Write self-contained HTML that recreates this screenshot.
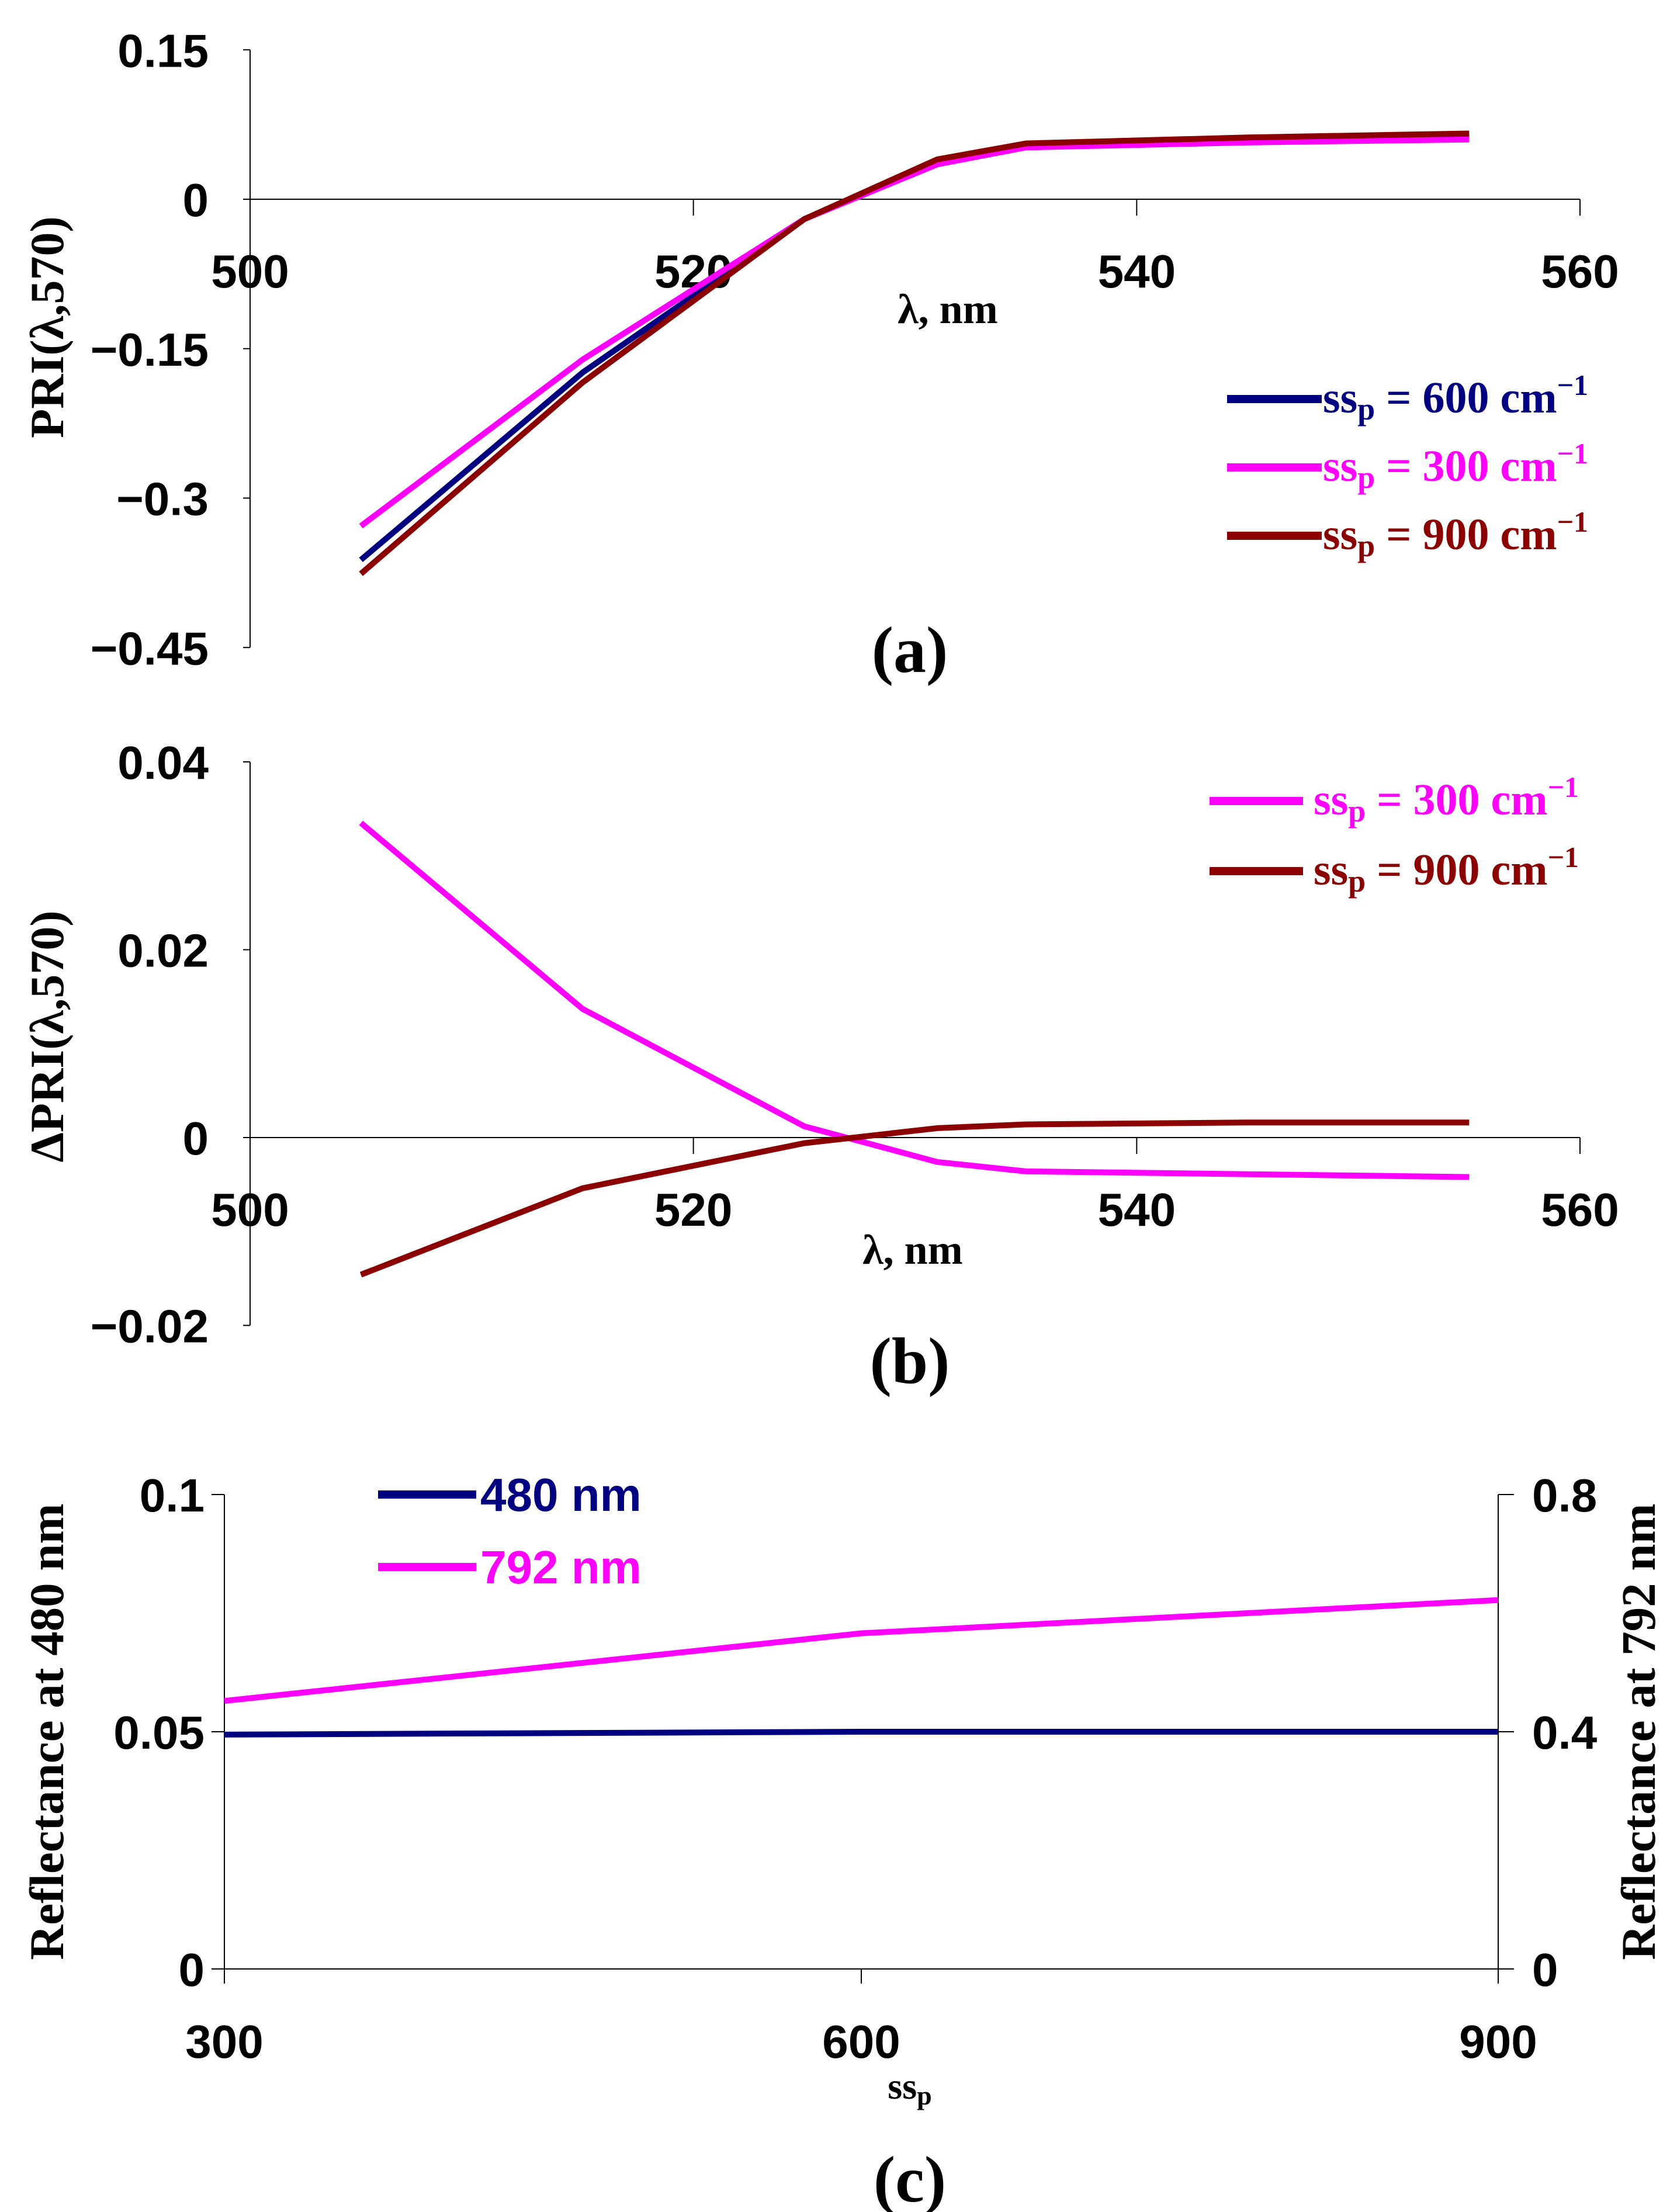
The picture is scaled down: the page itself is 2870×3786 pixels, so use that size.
<!DOCTYPE html>
<html><head><meta charset="utf-8"><style>
html,body{margin:0;padding:0;background:#fff;}
svg{display:block;}
.tk{font-family:"Liberation Sans",sans-serif;font-weight:bold;font-size:80px;fill:#000;}
.sr{font-family:"Liberation Serif",serif;font-weight:bold;}
</style></head><body>
<svg id="fig" width="2870" height="3786" viewBox="0 0 2870 3786" xmlns="http://www.w3.org/2000/svg">
<g id="pa"></g>
<g id="pb"></g>
<g id="pc"></g>
</svg>
<script>
// Panel (a) data
const lamA = [505, 515, 525, 531, 535, 545, 555];
const pri600 = [-0.362, -0.174, -0.020, 0.038, 0.054, 0.060, 0.063];
const pri300 = [-0.328, -0.161, -0.020, 0.035, 0.052, 0.057, 0.060];
const pri900 = [-0.376, -0.184, -0.020, 0.040, 0.056, 0.062, 0.066];
const yTicksA = [0.15, 0, -0.15, -0.3, -0.45];
const yTickLabelsA = ["0.15", "0", "\u22120.15", "\u22120.3", "\u22120.45"];
const xTicks = [500, 520, 540, 560];
// Panel (b) data
const lamB = [505, 515, 525, 531, 535, 545, 555];
const dpri300 = [0.0335, 0.0137, 0.0012, -0.0026, -0.0036, -0.0039, -0.0042];
const dpri900 = [-0.0146, -0.0054, -0.0006, 0.0010, 0.0014, 0.0016, 0.0016];
const yTicksB = [0.04, 0.02, 0, -0.02];
const yTickLabelsB = ["0.04", "0.02", "0", "\u22120.02"];
// Panel (c) data
const ssp = [300, 600, 900];
const r480 = [0.0494, 0.0500, 0.0500];
const r792 = [0.452, 0.566, 0.622];
const yTicksCL = [0.1, 0.05, 0];
const yTickLabelsCL = ["0.1", "0.05", "0"];
const yTicksCR = [0.8, 0.4, 0];
const yTickLabelsCR = ["0.8", "0.4", "0"];
const xTicksC = [300, 600, 900];

const NS = "http://www.w3.org/2000/svg";
function mk(parent, tag, attrs, text) {
  const e = document.createElementNS(NS, tag);
  for (const k in attrs) e.setAttribute(k, attrs[k]);
  if (text !== undefined) e.textContent = text;
  parent.appendChild(e);
  return e;
}
function poly(parent, xs, ys, fx, fy, color, w) {
  const pts = xs.map((x, i) => fx(x) + "," + fy(ys[i])).join(" ");
  return mk(parent, "polyline", {points: pts, fill: "none", stroke: color, "stroke-width": w, "stroke-linejoin": "round"});
}
const NAVY = "#000080", PINK = "#ff00ff", RED = "#8b0000";
const XL = 428, XR = 2704;

// ---------- Panel A ----------
const pa = document.getElementById("pa");
const xA = v => XL + (v - 500) * (XR - XL) / 60;
const yA = v => 341 - v * (1023 / 0.6);
mk(pa, "line", {x1: XL, y1: yA(0.15), x2: XL, y2: yA(-0.45), stroke: "#000", "stroke-width": 2});
mk(pa, "line", {x1: XL, y1: yA(0), x2: XR, y2: yA(0), stroke: "#000", "stroke-width": 2});
yTicksA.forEach((t, i) => {
  mk(pa, "line", {x1: 416, y1: yA(t), x2: XL, y2: yA(t), stroke: "#000", "stroke-width": 2});
  const l = mk(pa, "text", {x: 357, y: yA(t) + 29, "text-anchor": "end", class: "tk"}, yTickLabelsA[i]);
  
  
});
xTicks.forEach(t => {
  mk(pa, "line", {x1: xA(t), y1: yA(0), x2: xA(t), y2: yA(0) + 28, stroke: "#000", "stroke-width": 2});
  const l = mk(pa, "text", {x: xA(t), y: 492, "text-anchor": "middle", class: "tk"}, String(t));
  
  
});
[[pri600, NAVY, 'series-a-600'], [pri300, PINK, 'series-a-300'], [pri900, RED, 'series-a-900']].forEach(s => {
  const p = poly(pa, lamA, s[0], xA, yA, s[1], 10);
  
  
});
// ---------- Panel B ----------
const pb = document.getElementById("pb");
const xB = xA;
const yB = v => 1947 - v * (643 / 0.04);
mk(pb, "line", {x1: XL, y1: yB(0.04), x2: XL, y2: yB(-0.02), stroke: "#000", "stroke-width": 2});
mk(pb, "line", {x1: XL, y1: yB(0), x2: XR, y2: yB(0), stroke: "#000", "stroke-width": 2});
yTicksB.forEach((t, i) => {
  mk(pb, "line", {x1: 416, y1: yB(t), x2: XL, y2: yB(t), stroke: "#000", "stroke-width": 2});
  const l = mk(pb, "text", {x: 357, y: yB(t) + 29, "text-anchor": "end", class: "tk"}, yTickLabelsB[i]);
  
  
});
xTicks.forEach(t => {
  mk(pb, "line", {x1: xB(t), y1: yB(0), x2: xB(t), y2: yB(0) + 28, stroke: "#000", "stroke-width": 2});
  const l = mk(pb, "text", {x: xB(t), y: 2098, "text-anchor": "middle", class: "tk"}, String(t));
  
  
});
[[dpri300, PINK, 'series-b-300'], [dpri900, RED, 'series-b-900']].forEach(s => {
  const p = poly(pb, lamB, s[0], xB, yB, s[1], 10);
  
  
});
// ---------- Panel C ----------
const pc = document.getElementById("pc");
const CL = 384, CR = 2564;
const xC = v => CL + (v - 300) * (CR - CL) / 600;
const yCL = v => 3370 - v * (812 / 0.1);
const yCR = v => 3370 - v * (812 / 0.8);
mk(pc, "line", {x1: CL, y1: 2558, x2: CL, y2: 3370, stroke: "#000", "stroke-width": 2});
mk(pc, "line", {x1: CR, y1: 2558, x2: CR, y2: 3370, stroke: "#000", "stroke-width": 2});
mk(pc, "line", {x1: CL, y1: 3370, x2: CR, y2: 3370, stroke: "#000", "stroke-width": 2});
yTicksCL.forEach((t, i) => {
  mk(pc, "line", {x1: 362, y1: yCL(t), x2: CL, y2: yCL(t), stroke: "#000", "stroke-width": 2});
  const l = mk(pc, "text", {x: 350, y: yCL(t) + 29, "text-anchor": "end", class: "tk"}, yTickLabelsCL[i]);
  
  
});
yTicksCR.forEach((t, i) => {
  mk(pc, "line", {x1: CR, y1: yCR(t), x2: CR + 27, y2: yCR(t), stroke: "#000", "stroke-width": 2});
  const l = mk(pc, "text", {x: 2622, y: yCR(t) + 29, "text-anchor": "start", class: "tk"}, yTickLabelsCR[i]);
  
  
});
xTicksC.forEach(t => {
  mk(pc, "line", {x1: xC(t), y1: 3370, x2: xC(t), y2: 3395, stroke: "#000", "stroke-width": 2});
  const l = mk(pc, "text", {x: xC(t), y: 3522, "text-anchor": "middle", class: "tk"}, String(t));
  
  
});
const pc1 = poly(pc, ssp, r480, xC, yCL, NAVY, 10);


const pc2 = poly(pc, ssp, r792, xC, yCR, PINK, 10);


</script>
<svg style="position:absolute;left:0;top:0" width="2870" height="3786" viewBox="0 0 2870 3786" xmlns="http://www.w3.org/2000/svg">
 <g class="sr">
  <text x="1622" y="553" text-anchor="middle" font-size="72" class="sr">λ, nm</text>
  <text transform="translate(108,560) rotate(-90)" text-anchor="middle" font-size="82" class="sr">PRI(λ,570)</text>
  <text x="1557" y="1150" text-anchor="middle" font-size="112" class="sr">(a)</text>
  <g>
   <line x1="2100" y1="683" x2="2262" y2="683" stroke="#000080" stroke-width="14"/>
   <text x="2264" y="706" font-size="76" fill="#000080" class="sr">ss<tspan font-size="54" dy="12">p</tspan><tspan dy="-12"> = 600 cm</tspan><tspan font-size="50" dy="-30">−1</tspan></text>
   <line x1="2100" y1="800" x2="2262" y2="800" stroke="#ff00ff" stroke-width="14"/>
   <text x="2264" y="823" font-size="76" fill="#ff00ff" class="sr">ss<tspan font-size="54" dy="12">p</tspan><tspan dy="-12"> = 300 cm</tspan><tspan font-size="50" dy="-30">−1</tspan></text>
   <line x1="2100" y1="917" x2="2262" y2="917" stroke="#8b0000" stroke-width="14"/>
   <text x="2264" y="940" font-size="76" fill="#8b0000" class="sr">ss<tspan font-size="54" dy="12">p</tspan><tspan dy="-12"> = 900 cm</tspan><tspan font-size="50" dy="-30">−1</tspan></text>
  </g>
  <text x="1562" y="2163" text-anchor="middle" font-size="72" class="sr">λ, nm</text>
  <text transform="translate(108,1774) rotate(-90)" text-anchor="middle" font-size="82" class="sr">ΔPRI(λ,570)</text>
  <text x="1557" y="2367" text-anchor="middle" font-size="112" class="sr">(b)</text>
  <g>
   <line x1="2070" y1="1371" x2="2230" y2="1371" stroke="#ff00ff" stroke-width="14"/>
   <text x="2248" y="1394" font-size="76" fill="#ff00ff" class="sr">ss<tspan font-size="54" dy="12">p</tspan><tspan dy="-12"> = 300 cm</tspan><tspan font-size="50" dy="-30">−1</tspan></text>
   <line x1="2070" y1="1491" x2="2230" y2="1491" stroke="#8b0000" stroke-width="14"/>
   <text x="2248" y="1514" font-size="76" fill="#8b0000" class="sr">ss<tspan font-size="54" dy="12">p</tspan><tspan dy="-12"> = 900 cm</tspan><tspan font-size="50" dy="-30">−1</tspan></text>
  </g>
  <text x="1557" y="3592" text-anchor="middle" font-size="64" class="sr">ss<tspan font-size="46" dy="10">p</tspan></text>
  <text transform="translate(108,2964) rotate(-90)" text-anchor="middle" font-size="83" class="sr">Reflectance at 480 nm</text>
  <text transform="translate(2832,2964) rotate(-90)" text-anchor="middle" font-size="83" class="sr">Reflectance at 792 nm</text>
  <text x="1557" y="3768" text-anchor="middle" font-size="112" class="sr">(c)</text>
 </g>
 <g>
  <line x1="647" y1="2558" x2="815" y2="2558" stroke="#000080" stroke-width="14"/>
  <text x="822" y="2586" font-size="80" class="tk" style="fill:#000080">480 nm</text>
  <line x1="647" y1="2682" x2="815" y2="2682" stroke="#ff00ff" stroke-width="14"/>
  <text x="822" y="2710" font-size="80" class="tk" style="fill:#ff00ff">792 nm</text>
 </g>
</svg>
</body></html>
